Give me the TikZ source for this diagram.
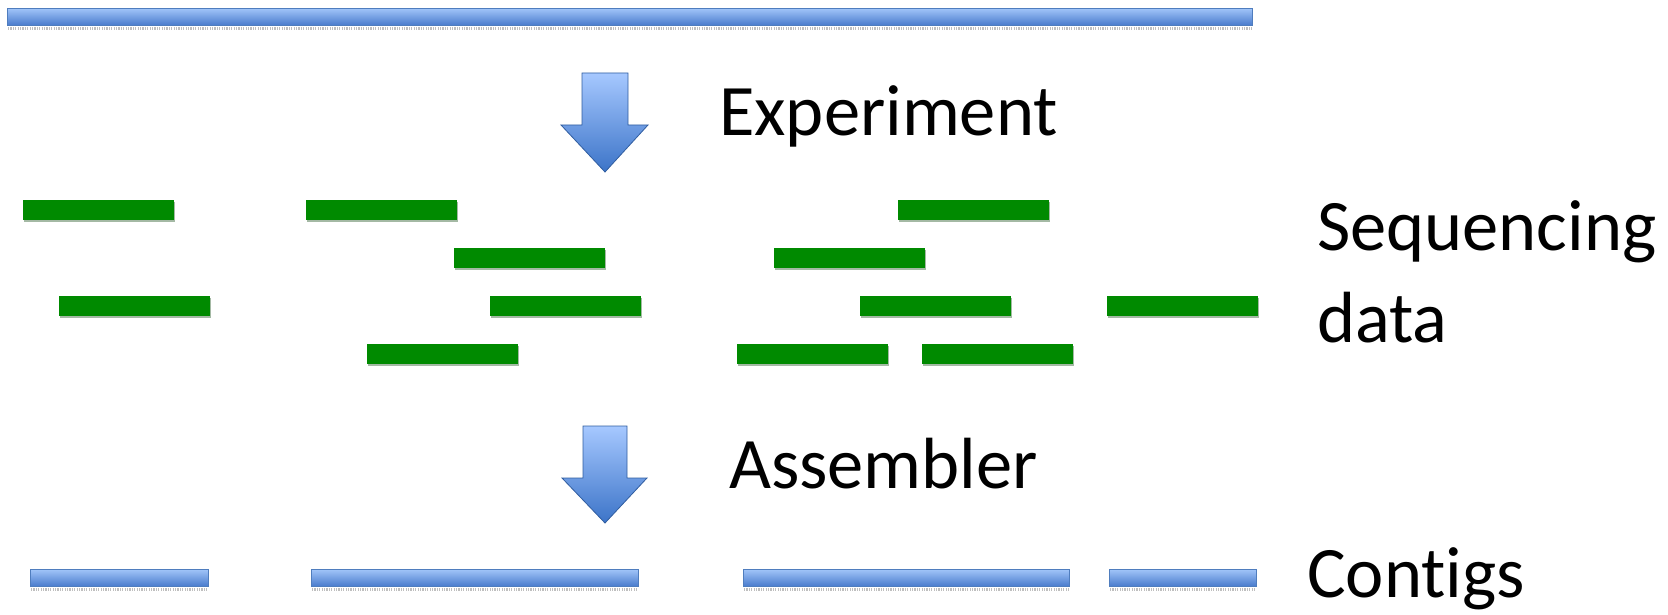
\documentclass[tikz,border=0pt]{standalone}
\usepackage{fontspec}
\setmainfont{Carlito}[Ligatures=NoCommon]
\usetikzlibrary{shadows}
\definecolor{readgreen}{RGB}{0,138,0}
\definecolor{barlight}{RGB}{160,196,248}
\definecolor{bardark}{RGB}{72,122,204}
\definecolor{barline}{RGB}{79,125,190}
\definecolor{arrowlight}{RGB}{166,200,255}
\definecolor{arrowdark}{RGB}{60,116,200}
\begin{document}
\begin{tikzpicture}[x=1pt,y=-1pt,
  seqbar/.style={rectangle,inner sep=0pt,outer sep=0pt,anchor=north west,
    top color=barlight,bottom color=bardark,draw=barline,line width=1.5pt,
    minimum height=17pt},
  barshadow/.style={gray!50,line width=3pt,dash pattern=on 1.2pt off 1.2pt},
  readbar/.style={rectangle,inner sep=0pt,outer sep=0pt,anchor=north west,
    fill=readgreen,minimum width=151pt,minimum height=20pt,
    drop shadow={shadow xshift=0.6pt,shadow yshift=-2.2pt,fill=black!50!green!30!gray,opacity=0.55}},
  flowarrow/.style={top color=arrowlight,bottom color=arrowdark,draw=arrowdark!80!black,line width=0.8pt,line join=miter},
  label/.style={anchor=base west,inner sep=0pt,font=\fontsize{72.5}{92}\selectfont}]
\useasboundingbox (0,0) rectangle (1668,615);

% genome
\draw[barshadow] (8,29) -- (1252,29);
\node[seqbar,minimum width=1245pt] (genome) at (7.5,8.5) {};

% first step arrow and label
\draw[flowarrow] (582,73) -- (628,73) -- (628,125) -- (648,125) -- (605,172) -- (561,125) -- (582,125) -- cycle;
\node[label] (experiment) at (719,136) {Experiment};

% sequencing reads
\node[readbar] (r1) at (23,200) {};
\node[readbar] (r2) at (306,200) {};
\node[readbar] (r3) at (898,200) {};
\node[readbar] (r4) at (454,248) {};
\node[readbar] (r5) at (774,248) {};
\node[readbar] (r6) at (59,296) {};
\node[readbar] (r7) at (490,296) {};
\node[readbar] (r8) at (860,296) {};
\node[readbar] (r9) at (1107,296) {};
\node[readbar] (r10) at (367,344) {};
\node[readbar] (r11) at (737,344) {};
\node[readbar] (r12) at (922,344) {};
\node[label] (seqdata) at (1317,250) {Sequencing};
\node[label] (seqdata2) at (1317,342) {data};

% second step arrow and label
\draw[flowarrow] (583,426) -- (627,426) -- (627,478) -- (647,478) -- (605,523) -- (562,478) -- (583,478) -- cycle;
\node[label] (assembler) at (729,488) {Assembler};

% contigs
\draw[barshadow] (31,589) -- (208,589);
\draw[barshadow] (312,589) -- (638,589);
\draw[barshadow] (744,589) -- (1069,589);
\draw[barshadow] (1110,589) -- (1256,589);
\node[seqbar,minimum width=178pt] (c1) at (30.5,569.5) {};
\node[seqbar,minimum width=327pt] (c2) at (311.5,569.5) {};
\node[seqbar,minimum width=326pt] (c3) at (743.5,569.5) {};
\node[seqbar,minimum width=147pt] (c4) at (1109.5,569.5) {};
\node[label] (contigs) at (1307,597) {Contigs};
\end{tikzpicture}
\end{document}
